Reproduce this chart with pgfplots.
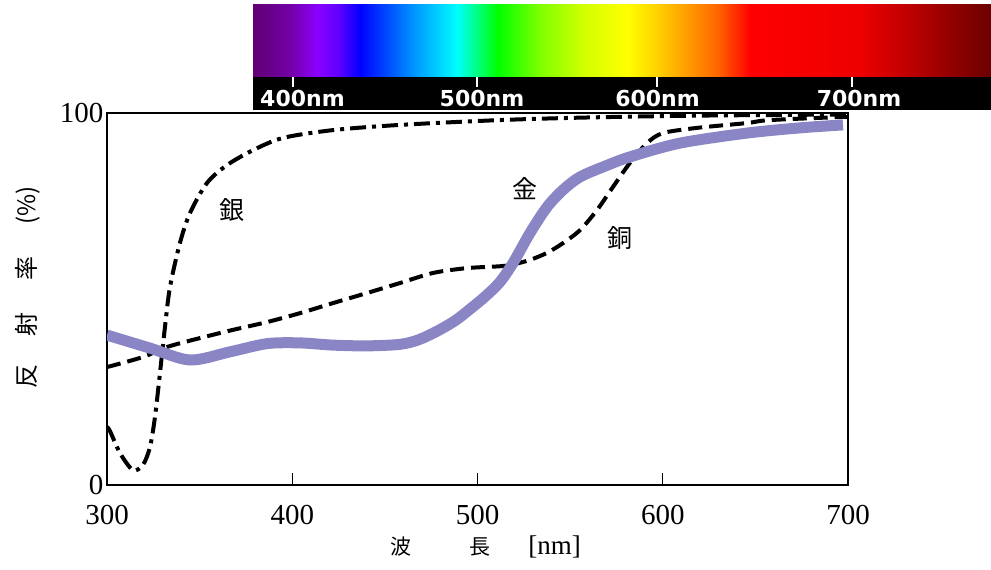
\documentclass[border=0pt]{standalone}
\usepackage{fontspec}
\setmainfont{Liberation Serif}
\newfontfamily\jp{Noto Sans CJK JP}
\newfontfamily\specfont{DejaVu Sans}
\usepackage{pgfplots}
\pgfplotsset{compat=1.18}
\definecolor{goldline}{RGB}{138,134,197}
\definecolor{sA}{rgb}{0.38,0,0.45}
\definecolor{sB}{rgb}{0.45,0,0.65}
\definecolor{sC}{rgb}{0.55,0,1}
\definecolor{sD}{rgb}{0.35,0,1}
\definecolor{sE}{rgb}{0,0,1}
\definecolor{sF}{rgb}{0,0.55,1}
\definecolor{sG}{rgb}{0,1,1}
\definecolor{sH}{rgb}{0,1,0}
\definecolor{sI}{rgb}{0.5,1,0}
\definecolor{sJ}{rgb}{0.82,1,0}
\definecolor{sK}{rgb}{1,1,0}
\definecolor{sL}{rgb}{1,0.8,0}
\definecolor{sM}{rgb}{1,0.4,0}
\definecolor{sN}{rgb}{1,0,0}
\definecolor{sO}{rgb}{0.93,0,0}
\definecolor{sP}{rgb}{0.7,0,0}
\definecolor{sQ}{rgb}{0.42,0,0}
\begin{document}
\begin{tikzpicture}[x=1pt,y=1pt]
\useasboundingbox (0,0) rectangle (991,570);
\begin{axis}[
  at={(107pt,85pt)}, anchor=south west, scale only axis,
  width=741pt, height=372pt,
  xmin=300, xmax=700, ymin=0, ymax=100,
  axis line style={line width=2.5pt},
  xtick={300,400,500,600,700},
  ytick={0,100},
  tick align=inside,
  xtick pos=bottom, ytick pos=left,
  major tick length=12pt,
  xtick style={black, line width=1.2pt},
  ytick style={draw=none},
  ticklabel style={font=\fontsize{29}{32}\selectfont},
  /pgf/number format/assume math mode=true,
  xticklabel style={yshift=-17pt},
  every axis y label/.style={at={(axis description cs:-0.1066,0.532)}, rotate=90, anchor=center},
  every axis x label/.style={at={(axis description cs:0.511,-0.188)}, anchor=base},
  ylabel={\jp\fontsize{24}{26}\selectfont 反\hspace{28pt}射\hspace{32pt}率\hspace{32pt}(\%)},
  xlabel={{\jp\fontsize{21}{24}\selectfont 波}\hspace{58pt}{\jp\fontsize{21}{24}\selectfont 長}\hspace{38pt}{\fontsize{27}{30}\selectfont[nm]}},
]
% silver
\addplot[black, line width=4pt, smooth, tension=0.5, dash pattern=on 16pt off 6pt on 4pt off 6pt] coordinates {
(300,15.6) (301.6,14.5) (307.0,8.6) (314.0,4.0) (319.4,5.4) (323.2,10.2) (325.9,18.3)
(328.6,30.1) (331.3,42.5) (334.0,53.2) (339.4,65.1) (344.8,73.1) (354.0,81.2)
(364.8,86.0) (378.8,90.0) (395.0,93.3) (422.0,95.4) (458.2,96.8) (512.1,98.1)
(560,98.8) (620,99.3) (700,99.6)
};
% copper
\addplot[black, line width=4pt, smooth, tension=0.5, dash pattern=on 14pt off 7pt] coordinates {
(300,31.7) (319.4,34.4) (332.4,37.1) (350.2,39.5) (368,41.7) (386.4,43.8) (404.2,46.2)
(422,48.9) (440.3,51.6) (458.2,54.3) (476,57.0) (494.3,58.3) (512.1,58.8) (519.2,59.3)
(528.3,60.5) (537.5,62.4) (546.1,65.0) (555.3,68.5) (564.5,73.9) (573.1,80.1)
(582.3,86.6) (591.5,91.9) (600.1,94.6) (618.5,96.0) (645.5,97.3) (658,98.1) (700,99)
};
% gold
\addplot[goldline, line width=11pt, smooth, tension=0.5] coordinates {
(300,40.3) (323.2,36.8) (344.8,33.6) (366.4,35.8) (386.4,38.0) (404.2,38.2) (422,37.6)
(440.3,37.4) (458,37.8) (468,39.0) (478,41.3) (488,44.2) (496,47.3) (504,50.6)
(512,54.5) (519.2,59.7) (528.3,67.7) (537.5,74.7) (546.1,79.3)
(555.3,82.8) (568.8,85.7) (582.3,88.2) (609.3,91.9) (645.5,94.6) (674.1,96.0) (697.3,96.8)
};
\node[font=\jp\fontsize{25}{27}\selectfont] at (axis cs:367.5,73.9) {銀};
\node[font=\jp\fontsize{25}{27}\selectfont] at (axis cs:525.6,79.8) {金};
\node[font=\jp\fontsize{25}{27}\selectfont] at (axis cs:577,66.4) {銅};
\end{axis}
\begin{axis}[
  at={(253pt,460pt)}, anchor=south west, scale only axis,
  width=738pt, height=105pt,
  xmin=253, xmax=991, ymin=0, ymax=105,
  hide axis, clip=false,
]
\fill[black] (axis cs:253,0) rectangle (axis cs:991,33.5);
\shade[left color=sA, right color=sB] (axis cs:253,33) rectangle (axis cs:290.5,105);
\shade[left color=sB, right color=sC] (axis cs:290,33) rectangle (axis cs:317.5,105);
\shade[left color=sC, right color=sD] (axis cs:317,33) rectangle (axis cs:340.5,105);
\shade[left color=sD, right color=sE] (axis cs:340,33) rectangle (axis cs:360.5,105);
\shade[left color=sE, right color=sF] (axis cs:360,33) rectangle (axis cs:410.5,105);
\shade[left color=sF, right color=sG] (axis cs:410,33) rectangle (axis cs:457.5,105);
\shade[left color=sG, right color=sH] (axis cs:457,33) rectangle (axis cs:497.5,105);
\shade[left color=sH, right color=sI] (axis cs:497,33) rectangle (axis cs:540.5,105);
\shade[left color=sI, right color=sJ] (axis cs:540,33) rectangle (axis cs:583.5,105);
\shade[left color=sJ, right color=sK] (axis cs:583,33) rectangle (axis cs:627.5,105);
\shade[left color=sK, right color=sL] (axis cs:627,33) rectangle (axis cs:660.5,105);
\shade[left color=sL, right color=sM] (axis cs:660,33) rectangle (axis cs:717.5,105);
\shade[left color=sM, right color=sN] (axis cs:717,33) rectangle (axis cs:750.5,105);
\shade[left color=sN, right color=sO] (axis cs:750,33) rectangle (axis cs:860.5,105);
\shade[left color=sO, right color=sP] (axis cs:860,33) rectangle (axis cs:920.5,105);
\shade[left color=sP, right color=sQ] (axis cs:920,33) rectangle (axis cs:991,105);
\draw[white, line width=1.8pt] (axis cs:293,33) -- (axis cs:293,23);
\draw[white, line width=1.8pt] (axis cs:477,33) -- (axis cs:477,23);
\draw[white, line width=1.8pt] (axis cs:657,33) -- (axis cs:657,23);
\draw[white, line width=1.8pt] (axis cs:852,33) -- (axis cs:852,23);
\node[anchor=base, white, font=\specfont\bfseries\fontsize{22}{24}\selectfont] at (axis cs:302.5,3) {400nm};
\node[anchor=base, white, font=\specfont\bfseries\fontsize{22}{24}\selectfont] at (axis cs:482,3) {500nm};
\node[anchor=base, white, font=\specfont\bfseries\fontsize{22}{24}\selectfont] at (axis cs:657.5,3) {600nm};
\node[anchor=base, white, font=\specfont\bfseries\fontsize{22}{24}\selectfont] at (axis cs:859,3) {700nm};
\end{axis}
\end{tikzpicture}
\end{document}
